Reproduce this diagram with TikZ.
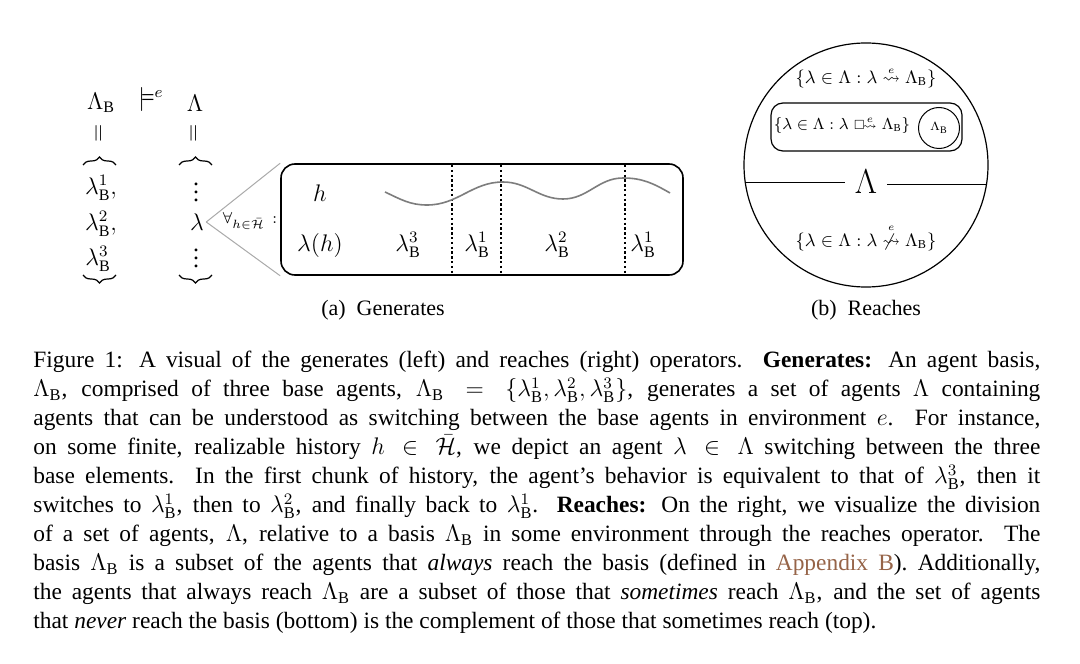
\documentclass[tikz,border=0pt]{standalone}
\usepackage{amsmath,amssymb}
\usepackage{fontspec}
\setmainfont{Liberation Serif}
\usetikzlibrary{decorations.pathreplacing}
\definecolor{linkbrown}{RGB}{150,100,72}
\definecolor{wavegray}{RGB}{125,125,125}
\definecolor{linegray}{RGB}{170,170,170}
\newcommand{\LB}{\Lambda_{\mathrm{B}}}
\newcommand{\lB}[1]{\lambda^{#1}_{\mathrm{B}}}
\newcommand{\reachop}{\mathrel{\overset{\scriptscriptstyle e}{\rightsquigarrow}}}
\newcommand{\nreachop}{\mathrel{\overset{\scriptscriptstyle e}{\not\rightsquigarrow}}}
\newcommand{\areachop}{\mathrel{\scriptstyle\square\!\overset{\scriptscriptstyle e}{\rightsquigarrow}}}
\begin{document}
\begin{tikzpicture}[x=0.5pt,y=-0.5pt,
  dtxt/.style={font=\fontsize{12}{14}\selectfont},
  bracetop/.style={decorate,decoration={brace,amplitude=4pt},line width=0.6pt},
  zoomline/.style={draw=linegray,line width=0.5pt},
  sepline/.style={dash pattern=on 1.2pt off 1.2pt,line width=0.55pt},
  reachtxt/.style={font=\fontsize{8.7}{10}\selectfont,inner sep=1pt},
  subcap/.style={font=\fontsize{11}{13}\selectfont,inner sep=0pt}]
\useasboundingbox[fill=white] (0,0) rectangle (1080,663);

% ---------- (a) Generates ----------
\node[dtxt] (LB) at (101,103) {$\LB$};
\node[dtxt] (models) at (151,100) {$\models^{e}$};
\node[dtxt] (L) at (195,103) {$\Lambda$};
\node[dtxt,rotate=90] (eqa) at (100,133) {$=$};
\node[dtxt,rotate=90] (eqb) at (195,133) {$=$};
\draw[bracetop] (83,165) -- (116,165);
\draw[bracetop] (116,275) -- (83,275);
\draw[bracetop] (179,165) -- (212,165);
\draw[bracetop] (212,275) -- (179,275);
\node[dtxt] (l1) at (101,188) {$\lB{1},$};
\node[dtxt] (l2) at (101,224) {$\lB{2},$};
\node[dtxt] (l3) at (98,259) {$\lB{3}$};
\node[dtxt] (dotsA) at (196,186) {$\vdots$};
\node[dtxt,inner sep=1pt] (lam) at (197,222) {$\lambda$};
\node[dtxt] (dotsB) at (196,252) {$\vdots$};

\node[draw,rounded corners=7pt,line width=0.8pt,minimum width=201pt,minimum height=55.5pt,inner sep=0pt] (box) at (482,219.5) {};
\draw[zoomline] (lam.east) -- (box.north west);
\draw[zoomline] (lam.east) -- (box.south west);
\node[font=\fontsize{8}{9}\selectfont,inner sep=0pt] (forall) at (250,221) {$\forall_{h\in\bar{\mathcal{H}}}\,:$};

\node[dtxt] (h) at (320,193) {$h$};
\node[dtxt] (lh) at (320,245) {$\lambda(h)$};
\node[dtxt] (s1) at (408,245) {$\lB{3}$};
\node[dtxt] (s2) at (477,245) {$\lB{1}$};
\node[dtxt] (s3) at (557,245) {$\lB{2}$};
\node[dtxt] (s4) at (643,245) {$\lB{1}$};
\foreach \xx/\nm in {452/d1,501/d2,625/d3}{
  \coordinate (\nm t) at (\xx,165);
  \coordinate (\nm b) at (\xx,274);
  \draw[sepline] (\nm t) -- (\nm b);
}
\draw[wavegray,line width=0.8pt] (385,192) to[out=-25,in=180] (427,205) to[out=0,in=180] (503,182)
   to[out=0,in=180] (563,199) to[out=0,in=180] (623,178) to[out=0,in=150] (670,193);

\node[subcap] (capa) at (383,310) {(a)\ \ Generates};

% ---------- (b) Reaches ----------
\node[draw,circle,line width=0.6pt,minimum size=122pt,inner sep=0pt] (C) at (866,165) {};
\node[font=\fontsize{17}{19}\selectfont,inner sep=0pt] (bigL) at (866,182) {$\Lambda$};
\draw[line width=0.55pt] (C.188.5) -- ([xshift=-5pt]bigL.west |- C.188.5);
\draw[line width=0.55pt] (C.351.5) -- ([xshift=5pt]bigL.east |- C.351.5);
\node[reachtxt] (top) at (866,78) {$\{\lambda\in\Lambda:\lambda\reachop\LB\}$};
\node[draw,rounded corners=6pt,line width=0.6pt,minimum width=95.5pt,minimum height=24pt,inner sep=0pt] (inner) at (866.5,127) {};
\node[reachtxt,font=\fontsize{7.6}{9}\selectfont] (always) at (842,125) {$\{\lambda\in\Lambda:\lambda\areachop\LB\}$};
\node[draw,circle,line width=0.5pt,minimum size=20.5pt,inner sep=0pt,font=\fontsize{6}{7}\selectfont] (basis) at (939,128) {$\LB$};
\node[reachtxt] (bottom) at (866,238) {$\{\lambda\in\Lambda:\lambda\nreachop\LB\}$};
\node[subcap] (capb) at (866,310) {(b)\ \ Reaches};

% ---------- caption ----------
\node[anchor=north west,inner sep=0pt,text width=503.5pt,align=justify,
      font=\fontsize{11.7}{14.5}\selectfont] (caption) at (33,351) {%
Figure 1: A visual of the generates (left) and reaches (right) operators. \textbf{Generates:} An agent basis,\linebreak
$\LB$, comprised of three base agents, $\LB = \{\lB{1},\lB{2},\lB{3}\}$, generates a set of agents $\Lambda$ containing\linebreak
agents that can be understood as switching between the base agents in environment $e$. For instance,\linebreak
on some finite, realizable history $h \in \bar{\mathcal{H}}$, we depict an agent $\lambda \in \Lambda$ switching between the three\linebreak
base elements. In the first chunk of history, the agent's behavior is equivalent to that of $\lB{3}$, then it\linebreak
switches to $\lB{1}$, then to $\lB{2}$, and finally back to $\lB{1}$. \textbf{Reaches:} On the right, we visualize the division\linebreak
of a set of agents, $\Lambda$, relative to a basis $\LB$ in some environment through the reaches operator. The\linebreak
basis $\LB$ is a subset of the agents that \textit{always} reach the basis (defined in \textcolor{linkbrown}{Appendix B}). Additionally,\linebreak
the agents that always reach $\LB$ are a subset of those that \textit{sometimes} reach $\LB$, and the set of agents\linebreak
that \textit{never} reach the basis (bottom) is the complement of those that sometimes reach (top).};
\end{tikzpicture}
\end{document}
